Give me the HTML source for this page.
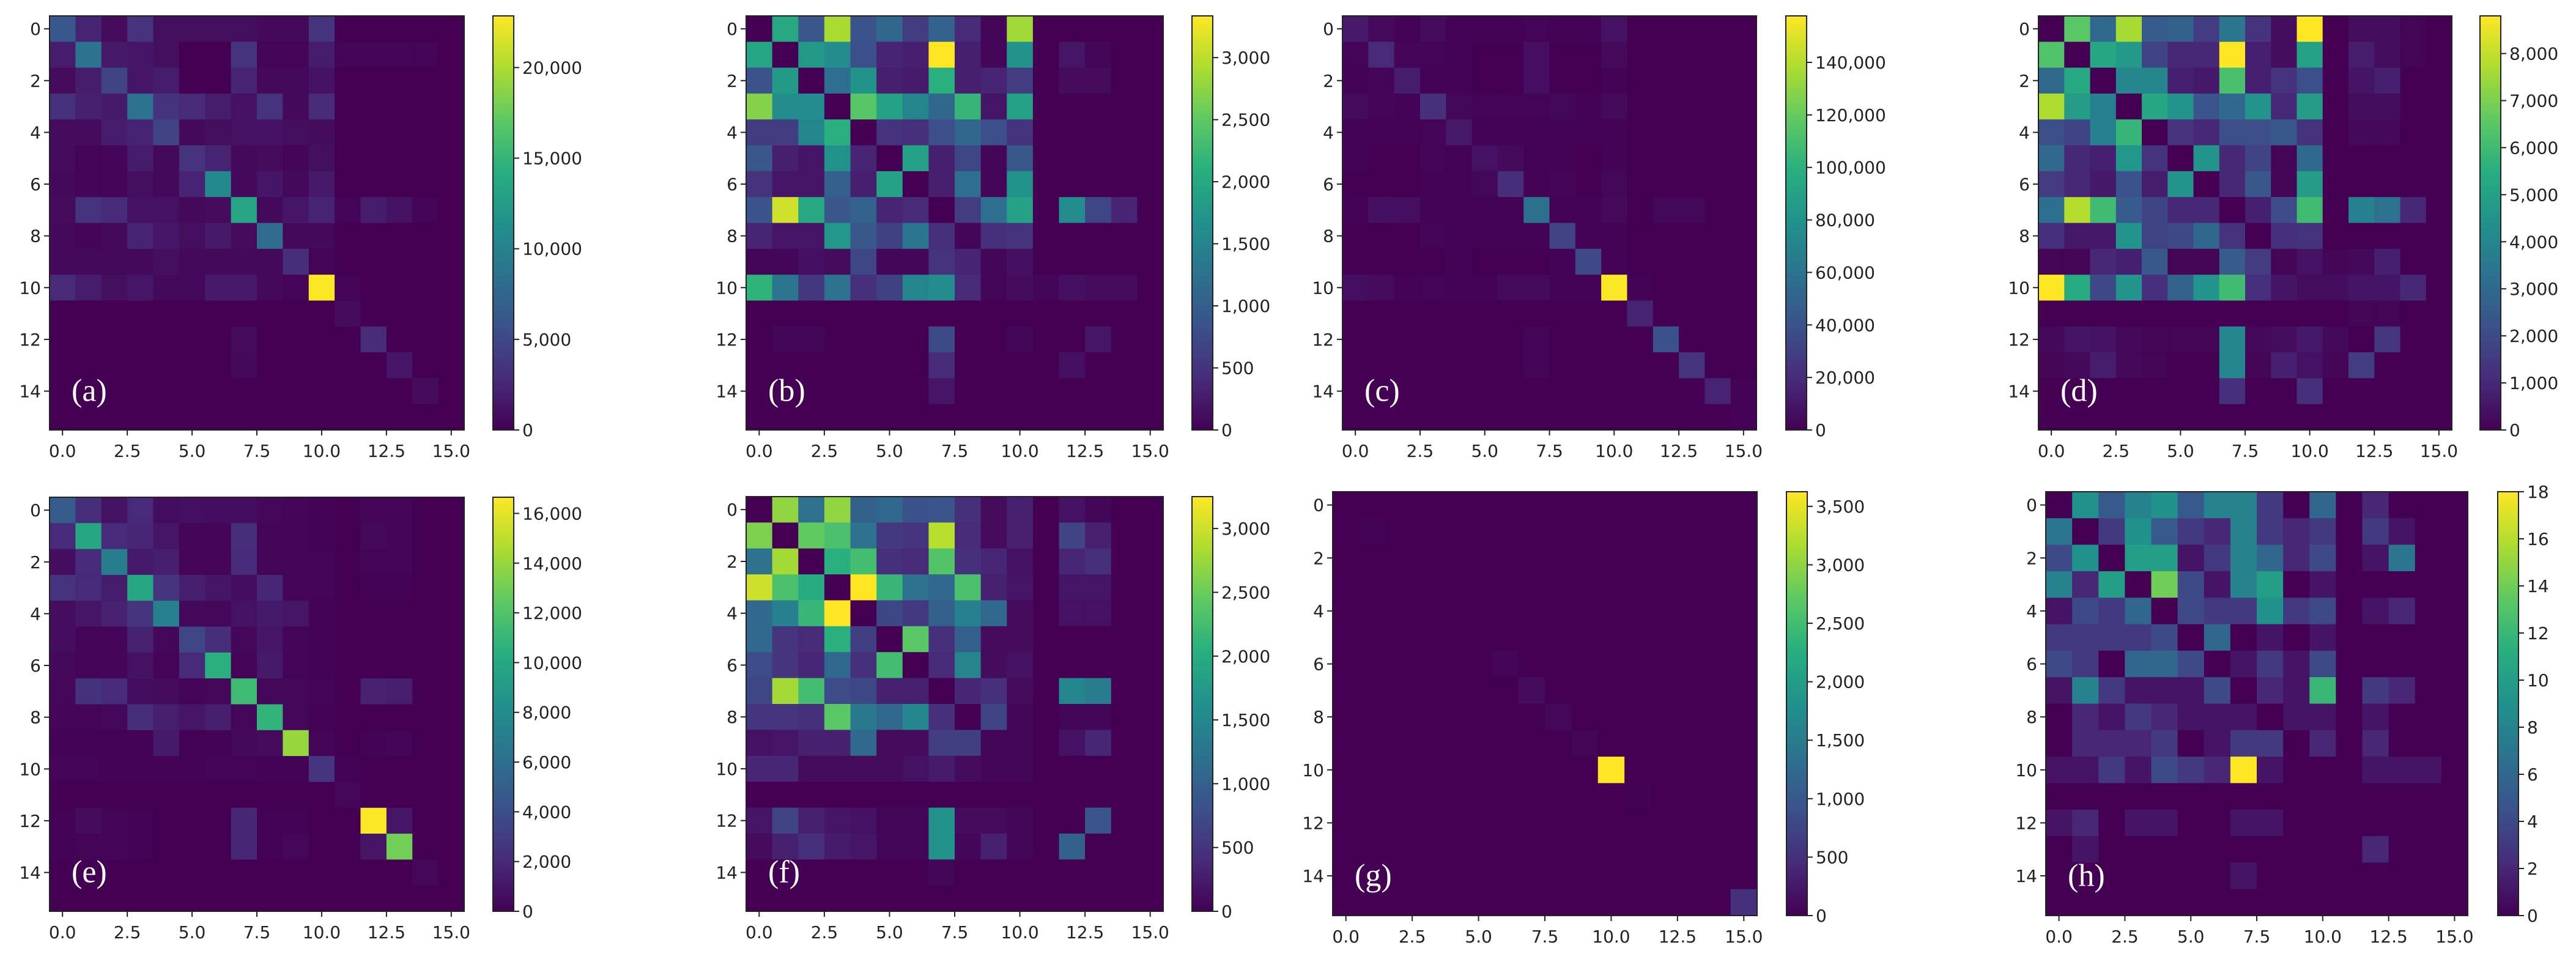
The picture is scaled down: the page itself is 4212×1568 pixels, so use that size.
<!DOCTYPE html>
<html><head><meta charset="utf-8">
<style>
html,body{margin:0;padding:0;background:#fff;}
svg{display:block;}
text{font-family:"DejaVu Sans","Liberation Sans",sans-serif;font-size:28px;fill:#222;}
.plab{font-family:"Liberation Serif",serif;font-size:52px;fill:#fff;}
</style></head>
<body>
<svg id="fig" xmlns="http://www.w3.org/2000/svg" width="4212" height="1568" viewBox="0 0 4212 1568">
<defs>
<linearGradient id="vir" x1="0" y1="1" x2="0" y2="0">
<stop offset="0" stop-color="#440154"/><stop offset="0.125" stop-color="#472c7a"/>
<stop offset="0.25" stop-color="#3b528b"/><stop offset="0.375" stop-color="#2c728e"/>
<stop offset="0.5" stop-color="#21918c"/><stop offset="0.625" stop-color="#28ae80"/>
<stop offset="0.75" stop-color="#5ec962"/><stop offset="0.875" stop-color="#addc30"/>
<stop offset="1" stop-color="#fde725"/>
</linearGradient>
</defs>
</svg>
<script>
// ---- data (values in colorbar units) ----
const panelLabels = ["(a)","(b)","(c)","(d)","(e)","(f)","(g)","(h)"];
const vmaxValues = [22850, 3336, 157700, 8800, 16650, 3250, 3625, 18];
const tickValuesA = [0,5000,10000,15000,20000];
const tickValuesB = [0,500,1000,1500,2000,2500,3000];
const tickValuesC = [0,20000,40000,60000,80000,100000,120000,140000];
const tickValuesD = [0,1000,2000,3000,4000,5000,6000,7000,8000];
const tickValuesE = [0,2000,4000,6000,8000,10000,12000,14000,16000];
const tickValuesF = [0,500,1000,1500,2000,2500,3000];
const tickValuesG = [0,500,1000,1500,2000,2500,3000,3500];
const tickValuesH = [0,2,4,6,8,10,12,14,16,18];
const xTickValues = [0,2.5,5,7.5,10,12.5,15];
const yTickValues = [0,2,4,6,8,10,12,14];

// panel (a) values in thousands
const valuesAk = [
[6.2,2.3,0.7,3.4,0.9,0.9,0.9,0.9,0.5,0.5,3.4,0,0,0,0,0],
[1.8,8.7,1.6,1.4,0.9,0,0,3.4,0.2,0.2,1.8,0.2,0.2,0.2,0.2,0],
[0.7,1.8,4.6,1.4,1.8,0,0,2.3,0.5,0.5,1.1,0,0,0,0,0],
[3.2,2.1,1.6,8.5,3.4,2.7,1.8,1.1,3.4,0.5,2.7,0,0,0,0,0],
[0.7,0.7,1.8,2.3,4.6,0.5,0.9,1.1,1.1,0.9,0.7,0,0,0,0,0],
[0.7,0.2,0.2,1.8,0.5,3.4,2.3,0.5,0.7,0.2,0.9,0,0,0,0,0],
[0.5,0.2,0.2,0.9,0.5,2.3,10.7,0.5,1.4,0.5,1.6,0,0,0,0,0],
[0.7,3.4,2.7,1.1,1.1,0.5,0.7,13.3,0.5,1.4,2.3,0.2,1.8,1.1,0.2,0],
[0.5,0.2,0.5,2.3,1.4,0.9,1.6,0.7,8.0,0.5,0.5,0,0,0,0,0],
[0.5,0.5,0.5,0.5,0.9,0.5,0.5,0.5,0.5,3.0,0.2,0,0,0,0,0],
[2.7,1.8,0.9,1.4,0.5,0.5,1.6,1.6,0.5,0.2,22.8,0.2,0,0,0,0],
[0,0,0,0,0,0,0,0,0,0,0,0.7,0,0,0,0],
[0,0,0,0,0,0,0,0.7,0,0,0,0,2.7,0,0,0],
[0,0,0,0,0,0,0,0.5,0,0,0,0,0,1.4,0,0],
[0,0,0,0,0,0,0,0,0,0,0,0,0,0,0.7,0],
[0,0,0,0,0,0,0,0,0,0,0,0,0,0,0,0]];
const valuesB = [
[0,2000,900,2900,850,1100,600,1050,400,50,2850,0,0,0,0,0],
[1950,0,1800,1600,800,350,300,3336,300,50,1700,0,200,50,0,0],
[850,1800,0,1200,1700,300,250,2100,300,350,600,0,100,100,0,0],
[2700,1600,1600,0,2450,1900,1500,1100,2200,200,1900,0,0,0,0,0],
[600,600,1500,2100,0,500,450,800,1100,800,500,0,0,0,0,0],
[900,300,200,1700,350,0,1900,300,700,50,900,0,0,0,0,0],
[500,200,200,1000,300,1900,0,300,1200,50,1700,0,0,0,0,0],
[850,3100,2000,900,1050,350,400,0,600,1200,1900,0,1600,700,350,0],
[350,200,200,1750,900,650,1300,450,50,450,500,0,0,0,0,0],
[50,50,150,100,700,50,50,500,350,50,150,0,0,0,0,0],
[2150,1300,550,1250,450,650,1500,1600,400,50,100,50,150,100,100,0],
[0,0,0,0,0,0,0,0,0,0,0,0,0,0,0,0],
[0,50,50,0,0,0,0,750,0,0,50,0,0,200,0,0],
[0,0,0,0,0,0,0,400,0,0,0,0,150,0,0,0],
[0,0,0,0,0,0,0,200,0,0,0,0,0,0,0,0],
[0,0,0,0,0,0,0,0,0,0,0,0,0,0,0,0]];
// panel (c) values in thousands
const valuesCk = [
[11,4,1,5,1,1,1,2,1,1,8,0,0,0,0,0],
[2,19,2,2,1,0,0,6,0,0,4,0,0,0,0,0],
[1,2,13,1,1,0,0,6,0,0,1,0,0,0,0,0],
[5,2,1,22,3,2,2,2,3,1,4,0,0,0,0,0],
[1,1,1,2,11,1,1,1,1,1,1,0,0,0,0,0],
[1,0,0,2,1,8,4,1,1,0,1,0,0,0,0,0],
[0,0,0,1,1,3,21,1,2,0,3,0,0,0,0,0],
[1,7,6,1,1,1,1,58,1,1,4,0,3,3,0,0],
[0,0,0,2,1,1,1,1,32,1,1,0,0,0,0,0],
[0,0,0,0,1,0,0,0,1,35,1,0,0,0,0,0],
[6,5,1,2,1,1,4,4,1,1,157,1,0,0,0,0],
[0,0,0,0,0,0,0,0,0,0,0,16,0,0,0,0],
[0,0,0,0,0,0,0,2,0,0,0,0,39,0,0,0],
[0,0,0,0,0,0,0,2,0,0,0,0,0,24,0,0],
[0,0,0,0,0,0,0,0,0,0,0,0,0,0,16,1],
[0,0,0,0,0,0,0,0,0,0,0,0,0,0,0,1]];
const valuesD = [
[0,6500,3000,7600,2500,2700,1600,3400,1300,300,8800,0,300,300,100,0],
[6300,0,5200,4700,1800,1000,1000,8800,800,300,5000,0,700,300,100,0],
[3000,5300,0,4000,4000,800,600,6200,800,1300,2100,0,500,800,0,0],
[7700,4800,3800,0,5200,4500,2300,3000,4500,1000,4800,0,300,300,0,0],
[2100,1800,3800,5800,0,1300,1000,2100,2100,2400,1300,0,200,200,0,0],
[3000,1000,800,4600,1300,0,4500,1000,1800,100,3000,0,0,0,0,0],
[1500,1000,600,2200,700,4500,0,1000,2400,100,4800,0,0,0,0,0],
[3200,7800,6000,2500,1800,1000,1000,0,800,2000,6000,0,3800,3300,1000,0],
[1200,600,600,4500,1800,1900,2900,1300,0,1200,1300,0,0,0,0,0],
[100,100,1000,800,2400,100,100,2500,1500,100,400,100,200,800,0,0],
[8800,5400,1900,4500,1200,2800,4500,6000,1200,500,300,300,500,500,1000,0],
[0,0,0,0,0,0,0,0,0,0,0,0,100,100,0,0],
[200,500,400,200,100,100,100,4000,200,300,600,200,0,1400,0,0],
[100,200,700,200,100,0,0,4000,100,800,400,100,1600,0,0,0],
[0,0,0,0,0,0,0,1200,0,0,1200,0,0,0,0,0],
[0,0,0,0,0,0,0,0,0,0,0,0,0,0,0,0]];
// panel (e) values in thousands
const valuesEk = [
[4.8,2.2,0.8,2.0,0.6,0.7,0.6,0.6,0.3,0.2,0.1,0,0.2,0.2,0,0],
[2.0,9.8,2.0,1.8,1.0,0.2,0.2,2.2,0.2,0.2,0.1,0,0.4,0.2,0,0],
[0.6,2.0,7.0,1.2,1.5,0.2,0.2,2.0,0.2,0.2,0.2,0,0.2,0.2,0,0],
[2.5,2.0,1.3,9.8,2.6,1.5,1.0,0.6,1.8,0.2,0.2,0,0.1,0.1,0,0],
[0.6,1.0,1.6,2.6,7.2,0.4,0.3,0.8,1.2,1.0,0.1,0,0,0,0,0],
[0.6,0.2,0.2,1.6,0.3,3.5,2.2,0.3,1.0,0.2,0.1,0,0,0,0,0],
[0.4,0.2,0.2,0.8,0.2,2.0,10.5,0.2,1.2,0.2,0.1,0,0,0,0,0],
[0.3,2.4,2.0,0.6,0.5,0.2,0.3,11.3,0.3,0.3,0.2,0,1.6,1.4,0,0],
[0.2,0.2,0.3,2.2,1.4,1.0,1.5,0.3,10.8,0.3,0.1,0,0,0,0,0],
[0.1,0.1,0.1,0.1,1.2,0.1,0.1,0.4,0.5,14.0,0.2,0,0.1,0.2,0,0],
[0.2,0.2,0.1,0.1,0.1,0.1,0.2,0.2,0.1,0.1,2.6,0.1,0,0,0,0],
[0,0,0,0,0,0,0,0,0,0,0,0.3,0,0,0,0],
[0.1,0.5,0.2,0.1,0,0,0,1.8,0.1,0.1,0,0,16.6,1.0,0,0],
[0.1,0.2,0.2,0.1,0,0,0,1.8,0.1,0.3,0,0,1.0,13.0,0,0],
[0,0,0,0,0,0,0,0,0,0,0,0,0,0,0.3,0],
[0,0,0,0,0,0,0,0,0,0,0,0,0,0,0,0]];
const valuesF = [
[0,2700,1200,2700,1000,1100,800,850,450,100,300,0,150,50,0,0],
[2600,0,2450,2300,1200,550,500,2900,400,100,300,0,650,300,0,0],
[1200,2800,0,2050,2250,450,400,2350,450,350,150,0,350,450,0,0],
[3000,2300,2000,0,3250,2150,1200,1100,2300,300,200,0,200,200,0,0],
[1100,1400,2150,3250,0,700,550,1000,1400,1100,100,0,150,150,0,0],
[1100,500,400,2050,600,0,2400,450,1000,100,100,0,0,0,0,0],
[750,500,350,1100,450,2250,0,400,1450,100,150,0,0,0,0,0],
[700,2800,2250,750,700,300,300,0,350,450,100,0,1500,1350,0,0],
[500,500,450,2400,1300,1100,1500,450,0,650,50,0,50,50,0,0],
[150,200,300,300,1100,100,100,600,600,50,50,0,150,350,0,0],
[350,350,100,100,100,100,150,250,100,50,50,0,0,0,0,0],
[0,0,0,0,0,0,0,0,0,0,0,0,0,0,0,0],
[200,650,300,200,150,50,50,1650,100,100,50,0,0,850,0,0],
[100,300,450,250,200,50,50,1650,50,300,50,0,1000,0,0,0],
[0,0,0,0,0,0,0,50,0,0,0,0,0,0,0,0],
[0,0,0,0,0,0,0,0,0,0,0,0,0,0,0,0]];
const valuesG = [
[0,0,0,0,0,0,0,0,0,0,0,0,0,0,0,0],
[0,20,0,0,0,0,0,0,0,0,0,0,0,0,0,0],
[0,0,0,0,0,0,0,0,0,0,0,0,0,0,0,0],
[0,0,0,0,0,0,0,0,0,0,0,0,0,0,0,0],
[0,0,0,0,0,0,0,0,0,0,0,0,0,0,0,0],
[0,0,0,0,0,0,0,0,0,0,0,0,0,0,0,0],
[0,0,0,0,0,0,30,0,0,0,0,0,0,0,0,0],
[0,0,0,0,0,0,0,120,0,0,0,0,0,0,0,0],
[0,0,0,0,0,0,0,0,60,0,0,0,0,0,0,0],
[0,0,0,0,0,0,0,0,0,40,0,0,0,0,0,0],
[0,0,0,0,0,0,0,0,0,0,3625,0,0,0,0,0],
[0,0,0,0,0,0,0,0,0,0,0,10,0,0,0,0],
[0,0,0,0,0,0,0,0,0,0,0,0,0,0,0,0],
[0,0,0,0,0,0,0,0,0,0,0,0,0,0,0,0],
[0,0,0,0,0,0,0,0,0,0,0,0,0,0,0,0],
[0,0,0,0,0,0,0,0,0,0,0,0,0,0,0,500]];
const valuesH = [
[0,9,5,8,9,5,8,8,3,0,6,0,2,0,0,0],
[7,0,3,9,5,3,2,8,3,2,3,0,3,1,0,0],
[4,9,0,10,10,1,3,8,6,2,4,0,1,7,0,0],
[8,2,10,0,14,4,1,8,10,0,1,0,0,0,0,0],
[1,4,3,6,0,4,3,3,9,3,4,0,1,2,0,0],
[3,3,3,3,4,0,6,0,1,0,1,0,0,0,0,0],
[4,3,0,6,6,4,0,1,3,1,4,0,0,0,0,0],
[1,8,3,1,1,1,4,0,2,1,12,0,3,2,0,0],
[0,2,1,3,2,1,1,1,0,1,1,0,1,0,0,0],
[0,2,2,2,3,0,1,3,3,0,2,0,2,0,0,0],
[1,1,3,1,4,3,2,18,1,0,0,0,1,1,1,0],
[0,0,0,0,0,0,0,0,0,0,0,0,0,0,0,0],
[1,2,0,1,1,0,0,1,1,0,0,0,0,0,0,0],
[0,1,0,0,0,0,0,0,0,0,0,0,2,0,0,0],
[0,0,0,0,0,0,0,1,0,0,0,0,0,0,0,0],
[0,0,0,0,0,0,0,0,0,0,0,0,0,0,0,0]];
const unitScale = [1000,1,1000,1,1000,1,1,1];

// ---- layout (not data) ----
const layout = [
 {x:81,y:26,w:678,h:677,cb:806},{x:1220,y:26,w:682,h:677,cb:1949},
 {x:2195,y:26,w:677,h:677,cb:2920},{x:3333,y:26,w:676,h:677,cb:4055},
 {x:81,y:813,w:678,h:677,cb:806},{x:1220,y:812,w:682,h:678,cb:1949},
 {x:2179,y:804,w:694,h:693,cb:2921},{x:3345,y:804,w:690,h:693,cb:4084}];

const matrices = [valuesAk,valuesB,valuesCk,valuesD,valuesEk,valuesF,valuesG,valuesH];
const ticksets = [tickValuesA,tickValuesB,tickValuesC,tickValuesD,tickValuesE,tickValuesF,tickValuesG,tickValuesH];

const VIR = [[68,1,84],[71,44,122],[59,82,139],[44,114,142],[33,145,140],[40,174,128],[94,201,98],[173,220,48],[253,231,37]];
function viridis(t){
  t=Math.max(0,Math.min(1,t));
  const p=t*(VIR.length-1), i=Math.min(VIR.length-2,Math.floor(p)), f=p-i;
  const c=VIR[i].map((v,k)=>Math.round(v+(VIR[i+1][k]-v)*f));
  return `rgb(${c[0]},${c[1]},${c[2]})`;
}
const NS="http://www.w3.org/2000/svg";
const svg=document.getElementById('fig');
function mk(tag,attrs,parent){const e=document.createElementNS(NS,tag);for(const k in attrs)e.setAttribute(k,attrs[k]);(parent||svg).appendChild(e);return e;}
function fmt(v){return v.toLocaleString('en-US');}

matrices.forEach((M,p)=>{
  const L=layout[p], n=16, cw=L.w/n, ch=L.h/n, vmax=vmaxValues[p], s=unitScale[p];
  const g=mk('g',{});
  
  
  const xPos=c=>L.x+(c+0.5)*cw, yPos=r=>L.y+(r+0.5)*ch;
  M.forEach((row,r)=>row.forEach((v,c)=>{
    const rc=mk('rect',{x:(xPos(c)-cw/2).toFixed(2),y:(yPos(r)-ch/2).toFixed(2),width:(cw+0.6).toFixed(2),height:(ch+0.6).toFixed(2),fill:viridis(v*s/vmax)},g);
    
    
  }));
  const fr=mk('rect',{x:L.x,y:L.y,width:L.w,height:L.h,fill:'none',stroke:'#222','stroke-width':2},g);
  
  
  xTickValues.forEach(v=>{
    const x=xPos(v);
    mk('line',{x1:x,x2:x,y1:L.y+L.h,y2:L.y+L.h+9,stroke:'#222','stroke-width':2},g);
    const t=mk('text',{x:x,y:L.y+L.h+44,'text-anchor':'middle'},g);
    t.textContent=v.toFixed(1);
    
    
  });
  yTickValues.forEach(v=>{
    const y=yPos(v);
    mk('line',{x1:L.x-9,x2:L.x,y1:y,y2:y,stroke:'#222','stroke-width':2},g);
    const t=mk('text',{x:L.x-14,y:y+10,'text-anchor':'end'},g);
    t.textContent=String(v);
    
    
  });
  const lab=mk('text',{x:L.x+36,y:L.y+L.h*0.93,'class':'plab'},g);
  lab.textContent=panelLabels[p];
  
  
  // colorbar
  const cbw=34;
  const cbr=mk('rect',{x:L.cb,y:L.y,width:cbw,height:L.h,fill:'url(#vir)',stroke:'#222','stroke-width':2},g);
  
  
  ticksets[p].forEach(v=>{
    const y=L.y+L.h-(v/vmax)*L.h;
    mk('line',{x1:L.cb+cbw,x2:L.cb+cbw+9,y1:y,y2:y,stroke:'#222','stroke-width':2},g);
    const t=mk('text',{x:L.cb+cbw+14,y:y+10},g);
    t.textContent=fmt(v);
    
    
  });
});
</script>
</body></html>
